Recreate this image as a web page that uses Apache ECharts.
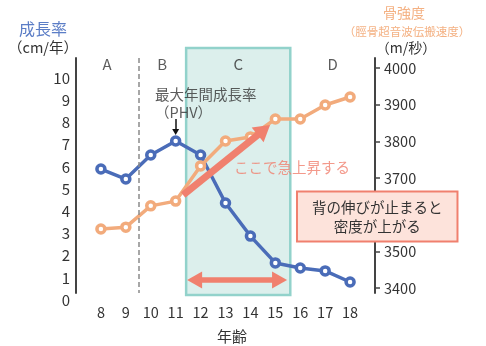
<!DOCTYPE html>
<html>
<head>
<meta charset="utf-8">
<script src="https://cdn.jsdelivr.net/npm/echarts@6/dist/echarts.min.js"></script>
<style>
  html, body { margin: 0; padding: 0; background: #fff; }
  #chart { width: 486px; height: 346px; }
</style>
</head>
<body>
<div id="chart"></div>
<script>
// Age (years) on the x axis
const ages = [8, 9, 10, 11, 12, 13, 14, 15, 16, 17, 18];
// Height growth rate (cm/year), left axis
const growthRate = [5.9, 5.45, 6.53, 7.16, 6.53, 4.37, 2.88, 1.67, 1.44, 1.31, 0.81];
// Tibial ultrasound speed (m/s), right axis
const boneSpeed = [3561, 3566, 3624, 3637, 3733, 3801, 3812, 3861, 3861, 3899, 3921];
// Tick labels
const leftTicks = [0, 1, 2, 3, 4, 5, 6, 7, 8, 9, 10];
const rightTicks = [3400, 3500, 3600, 3700, 3800, 3900, 4000];
// Growth phases and their borders along the age axis
const phaseNames = ['A', 'B', 'C', 'D'];
const phaseEdges = [7, 9.5, 11.42, 15.6, 19];

const FONT = '"Noto Sans CJK JP", "Noto Sans", sans-serif';
const BLUE = '#4a6cb8';
const ORANGE = '#f2ab7c';
const SALMON = '#f0806e';
const TEXT = '#333';

const chart = echarts.init(document.getElementById('chart'), null, { renderer: 'canvas' });

const phaseLabels = phaseNames.map((n, i) => ({
  value: [(phaseEdges[i] + phaseEdges[i + 1]) / 2, 10.63],
  label: { formatter: n }
}));

const option = {
  animation: false,
  textStyle: { fontFamily: FONT },
  grid: [
    { left: 76, right: 111, top: 40, bottom: 46 },
    { left: 76, right: 111, top: 58, bottom: 53 }
  ],
  xAxis: [
    {
      type: 'value', gridIndex: 0, min: 7, max: 19,
      axisLine: { show: false }, axisTick: { show: false }, splitLine: { show: false },
      axisLabel: { customValues: ages, color: TEXT, fontSize: 14.5, margin: 5, fontFamily: FONT }
    },
    { type: 'value', gridIndex: 1, min: 0, max: 1, show: false }
  ],
  yAxis: [
    {
      type: 'value', gridIndex: 0, position: 'left', min: 0, max: 11.712,
      axisLine: { show: false }, axisTick: { show: false }, splitLine: { show: false },
      axisLabel: { customValues: leftTicks, color: TEXT, fontSize: 15, margin: 6, fontFamily: FONT }
    },
    {
      type: 'value', gridIndex: 0, position: 'right', min: 3367.27, max: 4076.36,
      axisLine: { show: false }, splitLine: { show: false },
      axisTick: { show: true, customValues: rightTicks, length: 5, lineStyle: { color: '#444', width: 1.5 } },
      axisLabel: { customValues: rightTicks, formatter: v => String(v), color: TEXT, fontSize: 14.5, margin: 9, fontFamily: FONT }
    },
    {
      type: 'value', gridIndex: 1, position: 'left', min: 0, max: 1,
      axisLine: { show: true, lineStyle: { color: '#444', width: 2 } },
      axisTick: { show: false }, axisLabel: { show: false }, splitLine: { show: false }
    },
    {
      type: 'value', gridIndex: 1, position: 'right', min: 0, max: 1,
      axisLine: { show: true, lineStyle: { color: '#444', width: 2 } },
      axisTick: { show: false }, axisLabel: { show: false }, splitLine: { show: false }
    }
  ],
  series: [
    {
      // phase C band and the A/B divider
      name: 'zones', type: 'line', data: [], xAxisIndex: 0, yAxisIndex: 0, z: 1,
      markArea: {
        silent: true,
        itemStyle: { color: '#dcefec', borderColor: '#92d2cb', borderWidth: 2.5 },
        data: [[{ coord: [phaseEdges[2], 11.35] }, { coord: [phaseEdges[3], 0.225] }]]
      },
      markLine: {
        silent: true, symbol: ['none', 'none'], label: { show: false },
        lineStyle: { color: '#8a8a8a', type: [5, 3], width: 1.5 },
        data: [[{ coord: [phaseEdges[1], 10.9] }, { coord: [phaseEdges[1], 0.315] }]]
      }
    },
    {
      name: '成長率', type: 'line', xAxisIndex: 0, yAxisIndex: 0, z: 3,
      data: ages.map((a, i) => [a, growthRate[i]]),
      symbol: 'circle', symbolSize: 8,
      lineStyle: { color: BLUE, width: 3.5 },
      itemStyle: { color: '#fff', borderColor: BLUE, borderWidth: 3.5 }
    },
    {
      name: '骨強度', type: 'line', xAxisIndex: 0, yAxisIndex: 1, z: 3,
      data: ages.map((a, i) => [a, boneSpeed[i]]),
      symbol: 'circle', symbolSize: 8,
      lineStyle: { color: ORANGE, width: 3.5 },
      itemStyle: { color: '#fff', borderColor: ORANGE, borderWidth: 3.5 }
    },
    {
      // annotation arrows
      name: 'arrows', type: 'line', data: [], xAxisIndex: 0, yAxisIndex: 0, z: 5,
      markLine: {
        silent: true, label: { show: false },
        data: [
          [
            { coord: [11.3, 4.73], symbol: 'none', lineStyle: { color: SALMON, width: 7, type: 'solid' } },
            { coord: [14.54, 7.66], symbol: 'triangle', symbolSize: [19, 16] }
          ],
          [
            { coord: [11.76, 0.9], symbol: 'triangle', symbolSize: [17, 15], lineStyle: { color: SALMON, width: 5.5, type: 'solid' } },
            { coord: [15.17, 0.9], symbol: 'triangle', symbolSize: [17, 15] }
          ],
          [
            { coord: [11, 8.15], symbol: 'none', lineStyle: { color: '#111', width: 1.5, type: 'solid' } },
            { coord: [11, 7.57], symbol: 'triangle', symbolSize: [7, 6] }
          ]
        ]
      }
    },
    {
      // phase letters
      name: 'phases', type: 'scatter', xAxisIndex: 0, yAxisIndex: 0, z: 6,
      symbolSize: 0, silent: true, clip: false,
      label: { show: true, position: 'inside', color: TEXT, fontSize: 15, fontFamily: FONT },
      data: phaseLabels
    },
    {
      // text notes
      name: 'notes', type: 'scatter', xAxisIndex: 0, yAxisIndex: 0, z: 7,
      symbolSize: 0, silent: true, clip: false,
      label: { show: true, position: 'inside', fontFamily: FONT },
      data: [
        {
          value: [10.17, 8.83],
          label: { formatter: '最大年間成長率\n（PHV）', align: 'left', color: TEXT, fontSize: 14.5, lineHeight: 18 }
        },
        {
          value: [15.67, 5.95],
          label: { formatter: 'ここで急上昇する', align: 'center', color: SALMON, fontSize: 14.5 }
        }
      ]
    }
  ],
  graphic: [
    { type: 'text', x: 43, y: 29, style: { text: '成長率', fill: '#5b7dc6', font: '16px ' + FONT, textAlign: 'center', textVerticalAlign: 'middle' } },
    { type: 'text', x: 43, y: 47, style: { text: '（cm/年）', fill: TEXT, font: '14.5px ' + FONT, textAlign: 'center', textVerticalAlign: 'middle' } },
    { type: 'text', x: 404, y: 13, style: { text: '骨強度', fill: '#f4b183', font: '14px ' + FONT, textAlign: 'center', textVerticalAlign: 'middle' } },
    { type: 'text', x: 407, y: 32, style: { text: '（脛骨超音波伝搬速度）', fill: '#f4b183', font: '11.5px ' + FONT, textAlign: 'center', textVerticalAlign: 'middle' } },
    { type: 'text', x: 406, y: 48, style: { text: '（m/秒）', fill: TEXT, font: '14px ' + FONT, textAlign: 'center', textVerticalAlign: 'middle' } },
    { type: 'text', x: 232, y: 336, style: { text: '年齢', fill: TEXT, font: '15px ' + FONT, textAlign: 'center', textVerticalAlign: 'middle' } }
  ]
};

chart.setOption(option);

// Callout box laid over the right axis, anchored in data coordinates
const boxAnchor = chart.convertToPixel({ xAxisIndex: 0, yAxisIndex: 0 }, [19.09, 3.76]);
chart.setOption({
  graphic: [{
    id: 'callout', type: 'text', z: 100, zlevel: 1,
    x: boxAnchor[0], y: boxAnchor[1],
    style: {
      text: '背の伸びが止まると\n密度が上がる',
      fill: TEXT, font: '14.5px ' + FONT, lineHeight: 19,
      align: 'center', verticalAlign: 'middle',
      backgroundColor: '#fde3db', borderColor: SALMON, borderWidth: 2,
      padding: [5, 14]
    }
  }]
});
</script>
</body>
</html>
